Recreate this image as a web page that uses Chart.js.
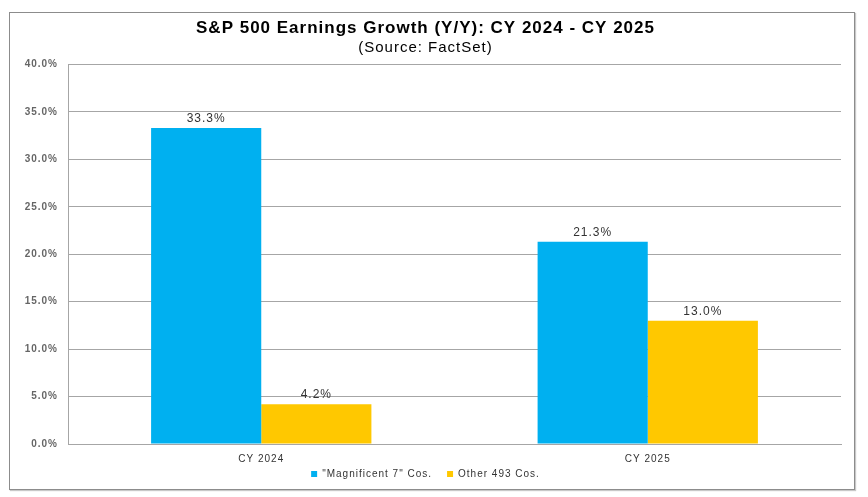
<!DOCTYPE html>
<html>
<head>
<meta charset="utf-8">
<script src="https://cdn.jsdelivr.net/npm/chart.js@4"></script>
<style>
  html, body { margin: 0; padding: 0; background: #fff; }
  #frame {
    position: absolute; left: 9px; top: 12px;
    width: 844px; height: 476px;
    border: 1px solid #8c8c8c;
    box-shadow: 1px 1px 1px #c8c8c8;
  }
  canvas { display: block; }
</style>
</head>
<body>
<div id="frame"><canvas id="chart" width="844" height="476"></canvas></div>
<script>
const categories = ["CY 2024", "CY 2025"];
const mag7Values = [33.3, 21.3];
const otherValues = [4.2, 13.0];
const seriesNames = ["\"Magnificent 7\" Cos.", "Other 493 Cos."];
const yTicks = [0, 5, 10, 15, 20, 25, 30, 35, 40];

const FONT = "'Liberation Sans', Arial, sans-serif";

// the source picture is slightly stretched sideways, so widen all text a bit
const wideText = {
  id: "wideText",
  beforeLayout(chart) { chart.ctx.letterSpacing = "1px"; },
  beforeDraw(chart) { chart.ctx.letterSpacing = "1px"; }
};

const barLabels = {
  id: "barLabels",
  afterDatasetsDraw(chart) {
    const ctx = chart.ctx;
    ctx.save();
    ctx.font = "12px " + FONT;
    ctx.fillStyle = "#333";
    ctx.textAlign = "center";
    ctx.textBaseline = "bottom";
    chart.data.datasets.forEach((ds, i) => {
      chart.getDatasetMeta(i).data.forEach((bar, j) => {
        ctx.fillText(ds.data[j].toFixed(1) + "%", bar.x, bar.y - 3);
      });
    });
    ctx.restore();
  }
};

new Chart(document.getElementById("chart"), {
  type: "bar",
  data: {
    labels: categories,
    datasets: [
      { label: seriesNames[0], data: mag7Values, backgroundColor: "#00b0f0" },
      { label: seriesNames[1], data: otherValues, backgroundColor: "#ffc800" }
    ]
  },
  options: {
    responsive: false,
    animation: false,
    datasets: { bar: { categoryPercentage: 0.57, barPercentage: 1.0 } },
    layout: { padding: { left: 0, right: 13, top: 0, bottom: 0 } },
    plugins: {
      title: {
        display: true,
        text: "S&P 500 Earnings Growth (Y/Y): CY 2024 - CY 2025",
        color: "#000",
        font: { family: FONT, size: 17, weight: "bold" },
        padding: { top: 5, bottom: 0 }
      },
      subtitle: {
        display: true,
        text: "(Source: FactSet)",
        color: "#000",
        font: { family: FONT, size: 15 },
        padding: { top: 0, bottom: 8 }
      },
      legend: {
        position: "bottom",
        labels: {
          boxWidth: 6, boxHeight: 6,
          color: "#333",
          font: { family: FONT, size: 10 },
          padding: 3,
          generateLabels(chart) {
            const items = Chart.defaults.plugins.legend.labels.generateLabels(chart);
            items.forEach((it, i) => {
              if (i < items.length - 1) it.text += "\u2002\u2002";
            });
            return items;
          }
        }
      },
      tooltip: { enabled: false }
    },
    scales: {
      x: {
        grid: { display: false },
        border: { color: "#a6a6a6", width: 1 },
        ticks: {
          color: "#333",
          font: { family: FONT, size: 10 },
          padding: 1
        }
      },
      y: {
        min: 0, max: 40,
        afterFit(scale) { scale.width = 58; },
        afterBuildTicks(scale) { scale.ticks = yTicks.map(v => ({ value: v })); },
        grid: { color: "#a6a6a6", drawTicks: false },
        border: { color: "#a6a6a6" },
        ticks: {
          color: "#666",
          padding: 10,
          font: { family: FONT, size: 10, weight: "bold" },
          callback: v => v.toFixed(1) + "%"
        }
      }
    }
  },
  plugins: [wideText, barLabels]
});
</script>
</body>
</html>
